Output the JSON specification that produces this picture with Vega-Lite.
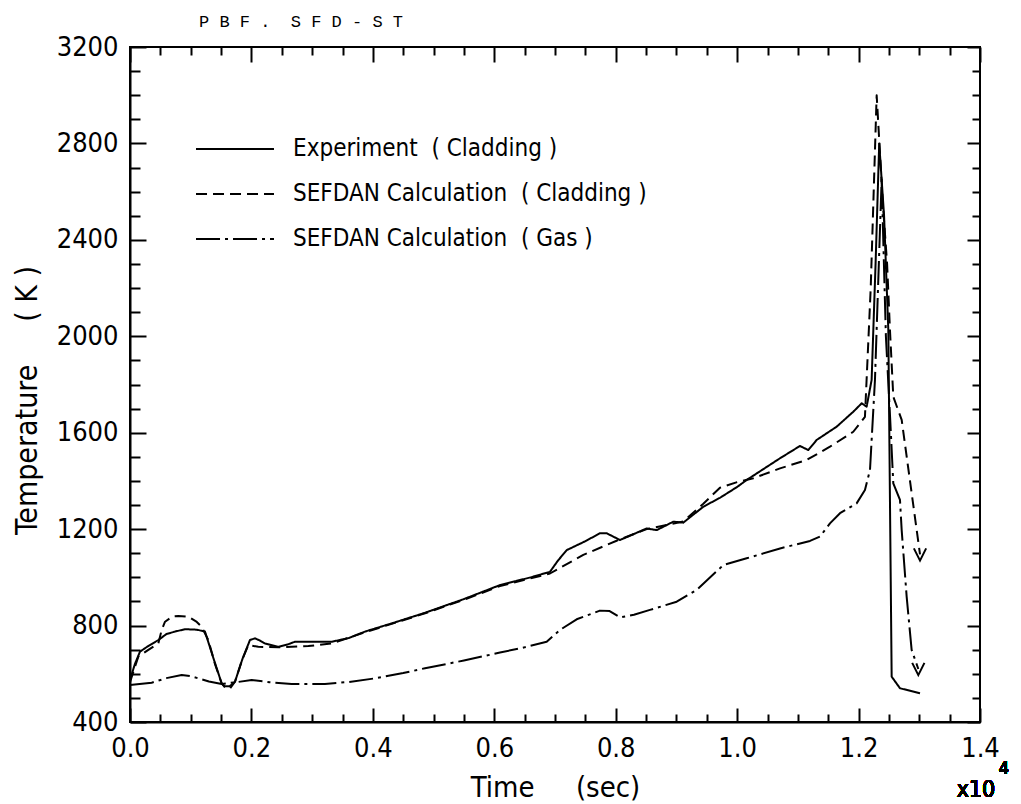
{
  "$schema": "https://vega.github.io/schema/vega-lite/v6.json",
  "width": 850,
  "height": 675,
  "autosize": {"type": "none"},
  "padding": {"left": 130, "top": 47, "right": 41, "bottom": 82},
  "background": "white",
  "title": {"text": "P\u00a0B\u00a0F\u00a0.\u00a0\u00a0S\u00a0F\u00a0D\u00a0-\u00a0S\u00a0T", "anchor": "start", "frame": "group", "dx": 69, "offset": 2, "font": "Liberation Mono", "fontSize": 17, "fontWeight": "normal", "color": "black"},
  "config": {
    "view": {"stroke": "black", "strokeWidth": 2},
    "axis": {"grid": false, "tickColor": "black", "tickWidth": 2, "domainColor": "black", "domainWidth": 2, "labelColor": "black", "titleColor": "black", "labelFlush": false, "labelOverlap": false, "labelBound": false, "titleFontWeight": "normal"}
  },
  "datasets": {
    "curves": [
      {"series": "Experiment (Cladding)", "time": 0, "temp": 574},
      {"series": "Experiment (Cladding)", "time": 80, "temp": 640},
      {"series": "Experiment (Cladding)", "time": 165, "temp": 692},
      {"series": "Experiment (Cladding)", "time": 300, "temp": 715},
      {"series": "Experiment (Cladding)", "time": 467, "temp": 740},
      {"series": "Experiment (Cladding)", "time": 600, "temp": 765},
      {"series": "Experiment (Cladding)", "time": 741, "temp": 775},
      {"series": "Experiment (Cladding)", "time": 906, "temp": 785},
      {"series": "Experiment (Cladding)", "time": 1100, "temp": 783},
      {"series": "Experiment (Cladding)", "time": 1235, "temp": 775},
      {"series": "Experiment (Cladding)", "time": 1380, "temp": 660},
      {"series": "Experiment (Cladding)", "time": 1510, "temp": 560},
      {"series": "Experiment (Cladding)", "time": 1560, "temp": 548},
      {"series": "Experiment (Cladding)", "time": 1640, "temp": 548},
      {"series": "Experiment (Cladding)", "time": 1729, "temp": 567},
      {"series": "Experiment (Cladding)", "time": 1850, "temp": 660},
      {"series": "Experiment (Cladding)", "time": 1976, "temp": 740},
      {"series": "Experiment (Cladding)", "time": 2059, "temp": 747},
      {"series": "Experiment (Cladding)", "time": 2140, "temp": 738},
      {"series": "Experiment (Cladding)", "time": 2223, "temp": 726},
      {"series": "Experiment (Cladding)", "time": 2443, "temp": 712},
      {"series": "Experiment (Cladding)", "time": 2600, "temp": 722},
      {"series": "Experiment (Cladding)", "time": 2718, "temp": 733},
      {"series": "Experiment (Cladding)", "time": 3321, "temp": 733},
      {"series": "Experiment (Cladding)", "time": 3600, "temp": 748},
      {"series": "Experiment (Cladding)", "time": 3870, "temp": 775},
      {"series": "Experiment (Cladding)", "time": 4310, "temp": 809},
      {"series": "Experiment (Cladding)", "time": 4859, "temp": 853},
      {"series": "Experiment (Cladding)", "time": 5500, "temp": 910},
      {"series": "Experiment (Cladding)", "time": 6094, "temp": 968},
      {"series": "Experiment (Cladding)", "time": 6600, "temp": 1000},
      {"series": "Experiment (Cladding)", "time": 6917, "temp": 1023},
      {"series": "Experiment (Cladding)", "time": 7050, "temp": 1070},
      {"series": "Experiment (Cladding)", "time": 7193, "temp": 1113},
      {"series": "Experiment (Cladding)", "time": 7500, "temp": 1150},
      {"series": "Experiment (Cladding)", "time": 7741, "temp": 1183},
      {"series": "Experiment (Cladding)", "time": 7850, "temp": 1183},
      {"series": "Experiment (Cladding)", "time": 8070, "temp": 1155},
      {"series": "Experiment (Cladding)", "time": 8300, "temp": 1180},
      {"series": "Experiment (Cladding)", "time": 8510, "temp": 1203},
      {"series": "Experiment (Cladding)", "time": 8675, "temp": 1196},
      {"series": "Experiment (Cladding)", "time": 8949, "temp": 1231},
      {"series": "Experiment (Cladding)", "time": 9113, "temp": 1227},
      {"series": "Experiment (Cladding)", "time": 9443, "temp": 1293},
      {"series": "Experiment (Cladding)", "time": 9717, "temp": 1330},
      {"series": "Experiment (Cladding)", "time": 10000, "temp": 1375},
      {"series": "Experiment (Cladding)", "time": 10157, "temp": 1404},
      {"series": "Experiment (Cladding)", "time": 10706, "temp": 1494},
      {"series": "Experiment (Cladding)", "time": 11035, "temp": 1545},
      {"series": "Experiment (Cladding)", "time": 11172, "temp": 1528},
      {"series": "Experiment (Cladding)", "time": 11310, "temp": 1570},
      {"series": "Experiment (Cladding)", "time": 11639, "temp": 1625},
      {"series": "Experiment (Cladding)", "time": 11913, "temp": 1687},
      {"series": "Experiment (Cladding)", "time": 12051, "temp": 1722},
      {"series": "Experiment (Cladding)", "time": 12133, "temp": 1708},
      {"series": "Experiment (Cladding)", "time": 12215, "temp": 1819},
      {"series": "Experiment (Cladding)", "time": 12280, "temp": 2300},
      {"series": "Experiment (Cladding)", "time": 12340, "temp": 2800},
      {"series": "Experiment (Cladding)", "time": 12420, "temp": 2500},
      {"series": "Experiment (Cladding)", "time": 12490, "temp": 2026},
      {"series": "Experiment (Cladding)", "time": 12545, "temp": 588},
      {"series": "Experiment (Cladding)", "time": 12682, "temp": 540},
      {"series": "Experiment (Cladding)", "time": 13012, "temp": 519},
      {"series": "SEFDAN Calculation (Cladding)", "time": 0, "temp": 565},
      {"series": "SEFDAN Calculation (Cladding)", "time": 137, "temp": 671},
      {"series": "SEFDAN Calculation (Cladding)", "time": 302, "temp": 699},
      {"series": "SEFDAN Calculation (Cladding)", "time": 467, "temp": 726},
      {"series": "SEFDAN Calculation (Cladding)", "time": 520, "temp": 780},
      {"series": "SEFDAN Calculation (Cladding)", "time": 577, "temp": 816},
      {"series": "SEFDAN Calculation (Cladding)", "time": 700, "temp": 838},
      {"series": "SEFDAN Calculation (Cladding)", "time": 797, "temp": 840},
      {"series": "SEFDAN Calculation (Cladding)", "time": 961, "temp": 837},
      {"series": "SEFDAN Calculation (Cladding)", "time": 1100, "temp": 815},
      {"series": "SEFDAN Calculation (Cladding)", "time": 1180, "temp": 795},
      {"series": "SEFDAN Calculation (Cladding)", "time": 1290, "temp": 740},
      {"series": "SEFDAN Calculation (Cladding)", "time": 1400, "temp": 640},
      {"series": "SEFDAN Calculation (Cladding)", "time": 1510, "temp": 560},
      {"series": "SEFDAN Calculation (Cladding)", "time": 1580, "temp": 538},
      {"series": "SEFDAN Calculation (Cladding)", "time": 1650, "temp": 540},
      {"series": "SEFDAN Calculation (Cladding)", "time": 1729, "temp": 567},
      {"series": "SEFDAN Calculation (Cladding)", "time": 1850, "temp": 660},
      {"series": "SEFDAN Calculation (Cladding)", "time": 1949, "temp": 719},
      {"series": "SEFDAN Calculation (Cladding)", "time": 2113, "temp": 712},
      {"series": "SEFDAN Calculation (Cladding)", "time": 2443, "temp": 710},
      {"series": "SEFDAN Calculation (Cladding)", "time": 2937, "temp": 715},
      {"series": "SEFDAN Calculation (Cladding)", "time": 3321, "temp": 726},
      {"series": "SEFDAN Calculation (Cladding)", "time": 3870, "temp": 772},
      {"series": "SEFDAN Calculation (Cladding)", "time": 4310, "temp": 807},
      {"series": "SEFDAN Calculation (Cladding)", "time": 4859, "temp": 851},
      {"series": "SEFDAN Calculation (Cladding)", "time": 5500, "temp": 907},
      {"series": "SEFDAN Calculation (Cladding)", "time": 6094, "temp": 964},
      {"series": "SEFDAN Calculation (Cladding)", "time": 6600, "temp": 996},
      {"series": "SEFDAN Calculation (Cladding)", "time": 6917, "temp": 1016},
      {"series": "SEFDAN Calculation (Cladding)", "time": 7466, "temp": 1093},
      {"series": "SEFDAN Calculation (Cladding)", "time": 8015, "temp": 1152},
      {"series": "SEFDAN Calculation (Cladding)", "time": 8510, "temp": 1200},
      {"series": "SEFDAN Calculation (Cladding)", "time": 9113, "temp": 1232},
      {"series": "SEFDAN Calculation (Cladding)", "time": 9443, "temp": 1305},
      {"series": "SEFDAN Calculation (Cladding)", "time": 9717, "temp": 1372},
      {"series": "SEFDAN Calculation (Cladding)", "time": 10000, "temp": 1395},
      {"series": "SEFDAN Calculation (Cladding)", "time": 10266, "temp": 1411},
      {"series": "SEFDAN Calculation (Cladding)", "time": 10706, "temp": 1452},
      {"series": "SEFDAN Calculation (Cladding)", "time": 11145, "temp": 1487},
      {"series": "SEFDAN Calculation (Cladding)", "time": 11529, "temp": 1542},
      {"series": "SEFDAN Calculation (Cladding)", "time": 11913, "temp": 1604},
      {"series": "SEFDAN Calculation (Cladding)", "time": 12105, "temp": 1666},
      {"series": "SEFDAN Calculation (Cladding)", "time": 12200, "temp": 2200},
      {"series": "SEFDAN Calculation (Cladding)", "time": 12298, "temp": 3000},
      {"series": "SEFDAN Calculation (Cladding)", "time": 12400, "temp": 2550},
      {"series": "SEFDAN Calculation (Cladding)", "time": 12470, "temp": 2300},
      {"series": "SEFDAN Calculation (Cladding)", "time": 12517, "temp": 2026},
      {"series": "SEFDAN Calculation (Cladding)", "time": 12572, "temp": 1749},
      {"series": "SEFDAN Calculation (Cladding)", "time": 12710, "temp": 1653},
      {"series": "SEFDAN Calculation (Cladding)", "time": 13012, "temp": 1095},
      {"series": "SEFDAN Calculation (Gas)", "time": 0, "temp": 553},
      {"series": "SEFDAN Calculation (Gas)", "time": 357, "temp": 563},
      {"series": "SEFDAN Calculation (Gas)", "time": 600, "temp": 582},
      {"series": "SEFDAN Calculation (Gas)", "time": 851, "temp": 595},
      {"series": "SEFDAN Calculation (Gas)", "time": 1000, "temp": 590},
      {"series": "SEFDAN Calculation (Gas)", "time": 1125, "temp": 581},
      {"series": "SEFDAN Calculation (Gas)", "time": 1300, "temp": 568},
      {"series": "SEFDAN Calculation (Gas)", "time": 1510, "temp": 558},
      {"series": "SEFDAN Calculation (Gas)", "time": 1750, "temp": 565},
      {"series": "SEFDAN Calculation (Gas)", "time": 2004, "temp": 574},
      {"series": "SEFDAN Calculation (Gas)", "time": 2300, "temp": 565},
      {"series": "SEFDAN Calculation (Gas)", "time": 2663, "temp": 558},
      {"series": "SEFDAN Calculation (Gas)", "time": 3211, "temp": 558},
      {"series": "SEFDAN Calculation (Gas)", "time": 3600, "temp": 566},
      {"series": "SEFDAN Calculation (Gas)", "time": 4035, "temp": 581},
      {"series": "SEFDAN Calculation (Gas)", "time": 4500, "temp": 603},
      {"series": "SEFDAN Calculation (Gas)", "time": 4859, "temp": 623},
      {"series": "SEFDAN Calculation (Gas)", "time": 5500, "temp": 655},
      {"series": "SEFDAN Calculation (Gas)", "time": 6094, "temp": 688},
      {"series": "SEFDAN Calculation (Gas)", "time": 6500, "temp": 710},
      {"series": "SEFDAN Calculation (Gas)", "time": 6863, "temp": 733},
      {"series": "SEFDAN Calculation (Gas)", "time": 7082, "temp": 782},
      {"series": "SEFDAN Calculation (Gas)", "time": 7357, "temp": 826},
      {"series": "SEFDAN Calculation (Gas)", "time": 7741, "temp": 862},
      {"series": "SEFDAN Calculation (Gas)", "time": 7900, "temp": 860},
      {"series": "SEFDAN Calculation (Gas)", "time": 8070, "temp": 834},
      {"series": "SEFDAN Calculation (Gas)", "time": 8300, "temp": 845},
      {"series": "SEFDAN Calculation (Gas)", "time": 8564, "temp": 865},
      {"series": "SEFDAN Calculation (Gas)", "time": 9004, "temp": 899},
      {"series": "SEFDAN Calculation (Gas)", "time": 9333, "temp": 948},
      {"series": "SEFDAN Calculation (Gas)", "time": 9772, "temp": 1051},
      {"series": "SEFDAN Calculation (Gas)", "time": 10157, "temp": 1079},
      {"series": "SEFDAN Calculation (Gas)", "time": 10706, "temp": 1120},
      {"series": "SEFDAN Calculation (Gas)", "time": 11200, "temp": 1151},
      {"series": "SEFDAN Calculation (Gas)", "time": 11365, "temp": 1169},
      {"series": "SEFDAN Calculation (Gas)", "time": 11529, "temp": 1224},
      {"series": "SEFDAN Calculation (Gas)", "time": 11694, "temp": 1266},
      {"series": "SEFDAN Calculation (Gas)", "time": 11968, "temp": 1307},
      {"series": "SEFDAN Calculation (Gas)", "time": 12105, "temp": 1362},
      {"series": "SEFDAN Calculation (Gas)", "time": 12188, "temp": 1445},
      {"series": "SEFDAN Calculation (Gas)", "time": 12270, "temp": 1819},
      {"series": "SEFDAN Calculation (Gas)", "time": 12380, "temp": 2650},
      {"series": "SEFDAN Calculation (Gas)", "time": 12450, "temp": 2000},
      {"series": "SEFDAN Calculation (Gas)", "time": 12520, "temp": 1660},
      {"series": "SEFDAN Calculation (Gas)", "time": 12572, "temp": 1390},
      {"series": "SEFDAN Calculation (Gas)", "time": 12682, "temp": 1321},
      {"series": "SEFDAN Calculation (Gas)", "time": 12710, "temp": 1196},
      {"series": "SEFDAN Calculation (Gas)", "time": 12792, "temp": 920},
      {"series": "SEFDAN Calculation (Gas)", "time": 12874, "temp": 699},
      {"series": "SEFDAN Calculation (Gas)", "time": 12984, "temp": 620}
    ]
  },
  "data": {"name": "curves"},
  "layer": [
    {
      "mark": {"type": "line", "strokeWidth": 2, "color": "black", "strokeJoin": "round"},
      "encoding": {
        "x": {
          "field": "time", "type": "quantitative",
          "scale": {"domain": [0, 14000], "nice": false, "zero": false},
          "axis": {
            "orient": "bottom",
            "values": [0,500,1000,1500,2000,2500,3000,3500,4000,4500,5000,5500,6000,6500,7000,7500,8000,8500,9000,9500,10000,10500,11000,11500,12000,12500,13000,13500,14000],
            "tickSize": {"condition": {"test": "datum.value % 2000 === 0", "value": -14}, "value": -8},
            "labelExpr": "datum.value % 2000 === 0 ? format(datum.value / 10000, '.1f') : ''",
            "labelFont": "DejaVu Sans Condensed, sans-serif",
            "labelFontSize": 27,
            "labelPadding": 27,
            "title": "Time\u00a0\u00a0\u00a0\u00a0\u00a0(sec)",
            "titleFont": "DejaVu Sans Condensed, sans-serif",
            "titleFontSize": 29,
            "titlePadding": 6
          }
        },
        "y": {
          "field": "temp", "type": "quantitative",
          "scale": {"domain": [400, 3200], "nice": false, "zero": false},
          "axis": {
            "orient": "left",
            "values": [400,500,600,700,800,900,1000,1100,1200,1300,1400,1500,1600,1700,1800,1900,2000,2100,2200,2300,2400,2500,2600,2700,2800,2900,3000,3100,3200],
            "tickSize": {"condition": {"test": "datum.value % 400 === 0", "value": -16}, "value": -10},
            "labelExpr": "datum.value % 400 === 0 ? format(datum.value, 'd') : ''",
            "labelFont": "DejaVu Sans Condensed, sans-serif",
            "labelFontSize": 27,
            "labelPadding": 28,
            "title": "Temperature\u00a0\u00a0\u00a0\u00a0\u00a0(\u00a0K\u00a0)",
            "titleFont": "DejaVu Sans Condensed, sans-serif",
            "titleFontSize": 30,
            "titlePadding": 14,
            "titleY": 353
          }
        },
        "strokeDash": {
          "field": "series", "type": "nominal",
          "scale": {"domain": ["Experiment (Cladding)", "SEFDAN Calculation (Cladding)", "SEFDAN Calculation (Gas)"], "range": [[1, 0], [11, 6], [24, 5, 3, 5]]},
          "legend": {
            "orient": "none", "legendX": 93, "legendY": 90, "title": null, "padding": 0,
            "symbolType": "M-4,0H4", "symbolSize": 380, "symbolStrokeWidth": 2, "symbolStrokeColor": "black",
            "labelFont": "DejaVu Sans Condensed, sans-serif", "labelFontSize": 24, "labelColor": "black",
            "labelOffset": 46, "rowPadding": 21, "labelLimit": 600,
            "labelExpr": "replace(replace(datum.label, ' (', '\u00a0\u00a0(\u00a0'), ')', '\u00a0)')"
          }
        }
      }
    },
    {
      "transform": [{"filter": "datum.series !== 'Experiment (Cladding)' && datum.time >= 12980"}],
      "mark": {"type": "point", "shape": "M-1,-1L0,1L1,-1", "size": 150, "strokeWidth": 2, "color": "black", "filled": false, "opacity": 1},
      "encoding": {
        "x": {
          "field": "time", "type": "quantitative",
          "scale": {"domain": [0, 14000], "nice": false, "zero": false},
          "axis": {
            "orient": "top",
            "values": [0,500,1000,1500,2000,2500,3000,3500,4000,4500,5000,5500,6000,6500,7000,7500,8000,8500,9000,9500,10000,10500,11000,11500,12000,12500,13000,13500,14000],
            "tickSize": {"condition": {"test": "datum.value % 2000 === 0", "value": -15}, "value": -8},
            "labels": false, "domain": false, "title": null
          }
        },
        "y": {
          "field": "temp", "type": "quantitative",
          "scale": {"domain": [400, 3200], "nice": false, "zero": false},
          "axis": {
            "orient": "right",
            "values": [400,500,600,700,800,900,1000,1100,1200,1300,1400,1500,1600,1700,1800,1900,2000,2100,2200,2300,2400,2500,2600,2700,2800,2900,3000,3100,3200],
            "tickSize": {"condition": {"test": "datum.value % 400 === 0", "value": -13}, "value": -8},
            "labels": false, "domain": false, "title": null
          }
        }
      }
    },
    {
      "mark": {"type": "text", "text": "x10", "font": "DejaVu Sans Condensed, sans-serif", "fontSize": 23, "color": "black", "align": "center", "baseline": "alphabetic", "dx": -4, "dy": 75},
      "encoding": {
        "x": {"datum": 14000, "type": "quantitative", "axis": null},
        "y": {"datum": 400, "type": "quantitative", "axis": null}
      }
    },
    {
      "mark": {"type": "text", "text": "4", "font": "DejaVu Sans Condensed, sans-serif", "fontSize": 18, "color": "black", "align": "center", "baseline": "alphabetic", "dx": 24, "dy": 52},
      "encoding": {
        "x": {"datum": 14000, "type": "quantitative", "axis": null},
        "y": {"datum": 400, "type": "quantitative", "axis": null}
      }
    }
  ],
  "resolve": {"axis": {"x": "independent", "y": "independent"}}
}
